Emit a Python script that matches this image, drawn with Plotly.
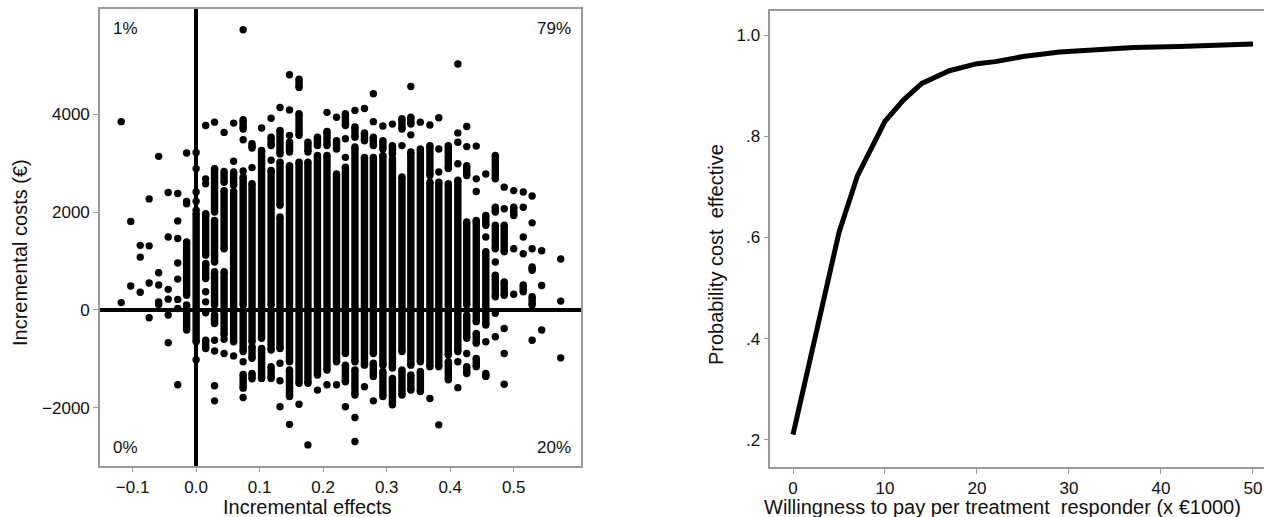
import plotly.graph_objects as go

# ---------------- data: cost-effectiveness plane (left) ----------------
# dense vertical stacks of bootstrap replicates: (incremental effect, lowest cost, highest cost)
cost_stacks = [
    (-0.015, 300, 1390), (-0.015, -410, 100),
    (0.0, -650, 1970),
    (0.015, 1120, 1970), (0.015, 640, 950), (0.015, -790, -620),
    (0.029, 2000, 2890), (0.029, 980, 1830), (0.029, 100, 780), (0.029, -280, -100),
    (0.044, 2610, 2830), (0.044, 1250, 2440), (0.044, -510, 780),
    (0.059, 2550, 2820), (0.059, -650, 2420),
    (0.074, 3700, 3890), (0.074, 100, 2720), (0.074, -850, 0), (0.074, -1600, -1320),
    (0.088, 3310, 3400), (0.088, -650, 2580), (0.088, -990, -750), (0.088, -1410, -1300),
    (0.103, -580, 3260), (0.103, -1400, -790),
    (0.118, 3360, 3530), (0.118, 100, 2850), (0.118, -820, 0), (0.118, -1400, -1160),
    (0.132, 3190, 3670), (0.132, 2140, 3020), (0.132, -790, 1900),
    (0.147, 3230, 3430), (0.147, -1060, 2950), (0.147, -1770, -1230),
    (0.162, 4550, 4720), (0.162, 3570, 4010), (0.162, -1500, 3020),
    (0.176, 3230, 3430), (0.176, -1500, 3020),
    (0.191, 3360, 3530), (0.191, -1330, 3160),
    (0.206, 3360, 3650), (0.206, -1230, 3160),
    (0.221, 3290, 3460), (0.221, -1060, 2780),
    (0.235, 3770, 4010), (0.235, -890, 2920), (0.235, -1470, -1130),
    (0.250, 3530, 3740), (0.250, -1060, 3330), (0.250, -1740, -1230),
    (0.265, 3460, 3620), (0.265, -1130, 3120),
    (0.279, 3360, 3530), (0.279, -890, 3120), (0.279, -1360, -1090),
    (0.294, 3290, 3460), (0.294, -1130, 3160), (0.294, -1770, -1260),
    (0.309, 3190, 3360), (0.309, -1190, 3090), (0.309, -1940, -1400),
    (0.324, 3700, 3910), (0.324, -850, 2720), (0.324, -1740, -1230),
    (0.338, 3800, 3940), (0.338, -1130, 3230), (0.338, -1640, -1330),
    (0.353, -1060, 3290), (0.353, -1670, -1260),
    (0.368, 2750, 3360), (0.368, -1160, 2610),
    (0.382, -1160, 2610),
    (0.397, 2890, 3360), (0.397, -920, 2580), (0.397, -1430, -1060),
    (0.412, -850, 2650),
    (0.426, 2750, 2950), (0.426, 100, 1800), (0.426, -580, -110), (0.426, -1300, -1160),
    (0.441, -240, 1830), (0.441, -680, -480), (0.441, -1160, -990),
    (0.456, 1730, 1930), (0.456, -310, 1190), (0.456, -1360, -1300),
    (0.471, 2680, 3160), (0.471, 2000, 2100), (0.471, 1250, 1730), (0.471, 270, 710),
    (0.485, 1190, 1730), (0.485, 300, 570),
    (0.500, 1930, 2100),
    (0.515, 370, 510),
    (0.529, 810, 880), (0.529, 100, 270),
]

# isolated replicates: (incremental effect, incremental cost)
cost_points = [
    (-0.118, 3850), (-0.118, 150),
    (-0.103, 1810), (-0.103, 490),
    (-0.088, 1320), (-0.088, 1080), (-0.088, 360),
    (-0.074, 2270), (-0.074, 1310), (-0.074, 550), (-0.074, -160),
    (-0.059, 3140), (-0.059, 760), (-0.059, 510), (-0.059, 165), (-0.059, 110),
    (-0.044, 2400), (-0.044, 1490), (-0.044, 420), (-0.044, 220), (-0.044, -105), (-0.044, -670),
    (-0.029, 2380), (-0.029, 1820), (-0.029, 1460), (-0.029, 960), (-0.029, 630),
    (-0.029, 215), (-0.029, 30), (-0.029, -1530),
    (-0.015, 3210), (-0.015, 2220), (-0.015, 2170),
    (0.0, 3220), (0.0, 2890), (0.0, 2410), (0.0, 2220), (0.0, 2040), (0.0, -1020),
    (0.015, 3770), (0.015, 2680), (0.015, 2580), (0.015, 370), (0.015, 165), (0.015, -60),
    (0.029, 3840), (0.029, -620), (0.029, -840), (0.029, -1550), (0.029, -1860),
    (0.044, 3630), (0.044, -600), (0.044, -890),
    (0.059, 3820), (0.059, 3040), (0.059, -940),
    (0.074, 5730), (0.074, 3480), (0.074, 2840), (0.074, -1060), (0.074, -1790),
    (0.088, 2910),
    (0.103, 3720),
    (0.118, 3920), (0.118, 3060),
    (0.132, 4140), (0.132, -1090), (0.132, -1450), (0.132, -1980),
    (0.147, 4810), (0.147, 4090), (0.147, 3570), (0.147, -2340),
    (0.162, -1930),
    (0.176, -2760),
    (0.191, -1640),
    (0.206, 4040), (0.206, -1530),
    (0.221, 3940), (0.221, -1530),
    (0.235, 3500), (0.235, 3120), (0.235, -1980),
    (0.250, 4080), (0.250, -2200), (0.250, -2690),
    (0.265, 4120), (0.265, -1570),
    (0.279, 4420), (0.279, 3850), (0.279, -1860),
    (0.294, 3760),
    (0.309, 3800),
    (0.324, 3360),
    (0.338, 4570), (0.338, 3580),
    (0.353, 3840),
    (0.368, 3780), (0.368, -1810),
    (0.382, 3930), (0.382, 3290), (0.382, 2820), (0.382, -2350),
    (0.412, 5030), (0.412, 3620), (0.412, 3430), (0.412, 2990), (0.412, -1060), (0.412, -1590),
    (0.426, 3750), (0.426, 3340), (0.426, -890),
    (0.441, 3350), (0.441, 2680), (0.441, 2420),
    (0.456, 2780), (0.456, 1490), (0.456, -650),
    (0.471, 980), (0.471, -70), (0.471, -550),
    (0.485, 2510), (0.485, 2070), (0.485, -380), (0.485, -890), (0.485, -1520),
    (0.500, 2440), (0.500, 1250), (0.500, 320),
    (0.515, 2410), (0.515, 2100), (0.515, 1490), (0.515, 1150),
    (0.529, 2330), (0.529, 1780), (0.529, 1250), (0.529, -620),
    (0.544, 1210), (0.544, 500), (0.544, -410),
    (0.574, 1040), (0.574, 180), (0.574, -980),
]

quadrant_labels = ["1%", "79%", "0%", "20%"]

# ---------------- data: acceptability curve (right) ----------------
wtp = [0, 2, 5, 7, 10, 12, 14, 17, 20, 22, 25, 29, 33, 37, 42, 46, 50]
prob_ce = [0.21, 0.37, 0.61, 0.722, 0.83, 0.872, 0.905, 0.930, 0.944, 0.948,
           0.958, 0.967, 0.972, 0.976, 0.978, 0.980, 0.983]

x_ticks_left = [-0.1, 0.0, 0.1, 0.2, 0.3, 0.4, 0.5]
y_ticks_left = [-2000, 0, 2000, 4000]
x_ticks_right = [0, 10, 20, 30, 40, 50]
y_ticks_right = [0.2, 0.4, 0.6, 0.8, 1.0]
y_ticktext_right = [".2", ".4", ".6", ".8", "1.0"]

x_title_left = "Incremental effects"
y_title_left = "Incremental costs (€)"
x_title_right = "Willingness to pay per treatment\u00a0 responder (x €1000)"
y_title_right = "Probability cost\u00a0 effective"

# ---------------- figure ----------------
FONT = "Arial, 'Liberation Sans', Helvetica, sans-serif"
AXIS_GREY = "#9a9a9a"
TXT = "#111"
DOT = 7.4
W, H = 1264, 517

seg_x, seg_y = [], []
for eff, lo, hi in cost_stacks:
    seg_x += [eff, eff, None]
    seg_y += [lo, hi, None]

fig = go.Figure()
fig.add_trace(go.Scatter(
    x=seg_x, y=seg_y, mode="lines+markers", xaxis="x", yaxis="y",
    line=dict(color="black", width=DOT),
    marker=dict(color="black", size=DOT),
    hoverinfo="skip", showlegend=False, connectgaps=False))
fig.add_trace(go.Scatter(
    x=[p[0] for p in cost_points], y=[p[1] for p in cost_points],
    mode="markers", xaxis="x", yaxis="y",
    marker=dict(color="black", size=DOT),
    showlegend=False))
fig.add_trace(go.Scatter(
    x=wtp, y=prob_ce, mode="lines", xaxis="x2", yaxis="y2",
    line=dict(color="black", width=5), showlegend=False))

common = dict(showline=True, linecolor=AXIS_GREY, linewidth=1.5,
              ticks="outside", ticklen=5, tickwidth=1.2, tickcolor=AXIS_GREY,
              showgrid=False, tickfont=dict(family=FONT, size=17, color=TXT),
              automargin=False)

fig.update_layout(
    width=W, height=H,
    margin=dict(l=0, r=0, t=0, b=0),
    paper_bgcolor="white", plot_bgcolor="white",
    font=dict(family=FONT, color=TXT),
    xaxis=dict(domain=[0.0791, 0.4597], range=[-0.1514, 0.606], mirror=True,
               tickvals=x_ticks_left, tickformat=".1f",
               zeroline=True, zerolinecolor="black", zerolinewidth=3.5, **common),
    yaxis=dict(domain=[0.0992, 0.982], range=[-3186, 6147], mirror=True,
               tickvals=y_ticks_left,
               zeroline=True, zerolinecolor="black", zerolinewidth=3.5, **common),
    xaxis2=dict(domain=[0.6094, 1.0], range=[-2.47, 51.2], mirror=True,
                anchor="y2", tickvals=x_ticks_right, zeroline=False, **common),
    yaxis2=dict(domain=[0.0967, 0.978], range=[0.146, 1.0474], mirror=False,
                anchor="x2", tickvals=y_ticks_right, ticktext=y_ticktext_right,
                zeroline=False, **common),
)

# axis titles, placed where the original puts them (pixel centres)
titles = [
    (x_title_left, 307, 507, 0),
    (y_title_left, 20, 253, -90),
    (x_title_right, 1002, 507, 0),
    (y_title_right, 716, 255, -90),
]
for txt, px, py, ang in titles:
    fig.add_annotation(text=txt, xref="paper", yref="paper",
                       x=px / W, y=1 - py / H, xanchor="center", yanchor="middle",
                       textangle=ang, showarrow=False,
                       font=dict(family=FONT, size=20, color=TXT))

qpos = [(0, 1, "left", 11, -19), (1, 1, "right", -8, -19),
        (0, 0, "left", 11, 18), (1, 0, "right", -8, 18)]
for txt, (qx, qy, anc, dx, dy) in zip(quadrant_labels, qpos):
    fig.add_annotation(text=txt, xref="x domain", yref="y domain", x=qx, y=qy,
                       xanchor=anc, yanchor="middle", xshift=dx, yshift=dy,
                       showarrow=False, font=dict(family=FONT, size=17, color=TXT))

fig.write_html("out.html", config={"displayModeBar": False},
               post_script="document.body.style.margin='0';document.body.style.overflow='hidden';")
